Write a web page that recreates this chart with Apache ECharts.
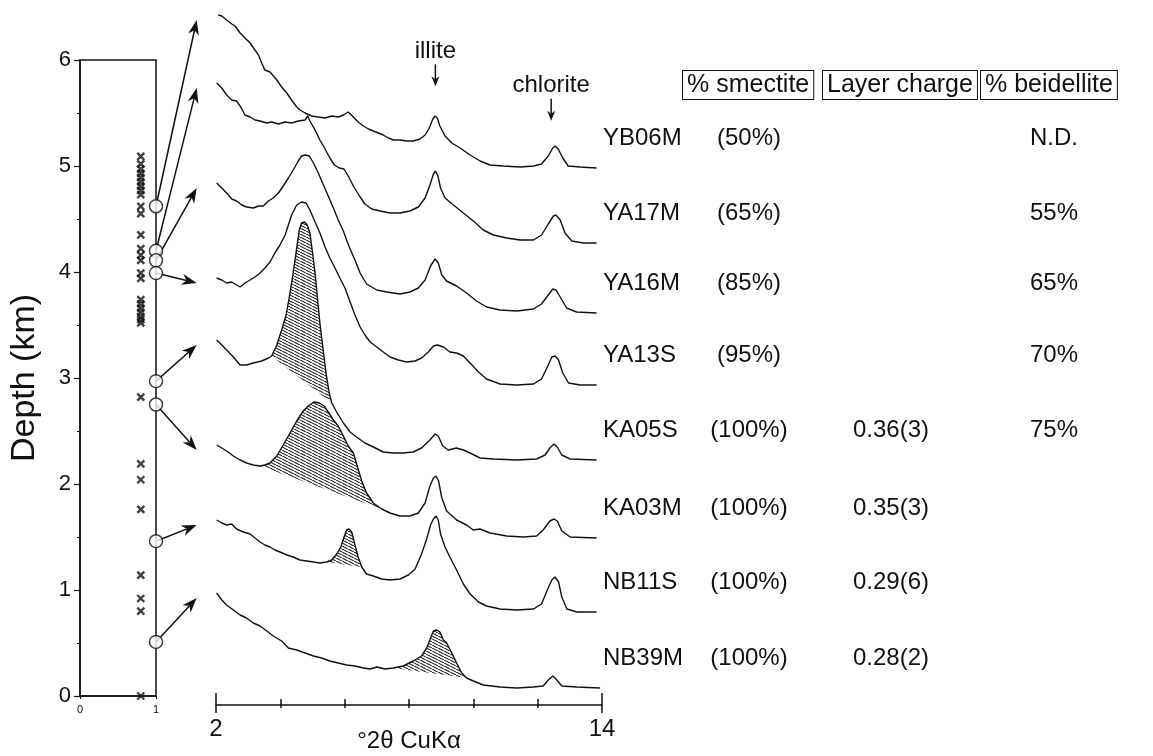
<!DOCTYPE html>
<html>
<head>
<meta charset="utf-8">
<title>Smectite XRD profiles with depth</title>
<script src="https://cdn.jsdelivr.net/npm/echarts@6.0.0/dist/echarts.min.js"></script>
<style>
  html, body { margin: 0; padding: 0; background: #fff; }
  #chart { width: 1153px; height: 756px; }
</style>
</head>
<body>
<div id="chart"></div>
<script>
// ---- Samples, listed from the deepest to the shallowest ----
const samples = ['YB06M', 'YA17M', 'YA16M', 'YA13S', 'KA05S', 'KA03M', 'NB11S', 'NB39M'];
const sampleDepthKm = [4.62, 4.20, 4.11, 3.99, 2.97, 2.75, 1.46, 0.51];
const smectitePct = [50, 65, 85, 95, 100, 100, 100, 100];
const layerCharge = ['', '', '', '', '0.36(3)', '0.35(3)', '0.29(6)', '0.28(2)'];
const beidellite = ['N.D.', '55%', '65%', '70%', '75%', '', '', ''];

// Other samples in the borehole (depth, km)
const otherDepthKm = [5.09, 5.02, 4.97, 4.93, 4.89, 4.85, 4.81, 4.77, 4.73, 4.62, 4.55, 4.35,
  4.22, 4.16, 4.11, 3.99, 3.94, 3.74, 3.70, 3.66, 3.62, 3.58, 3.55, 3.52,
  2.82, 2.19, 2.04, 1.76, 1.14, 0.92, 0.80, 0.0];

// Depth axis ticks
const depthTicks = [0, 1, 2, 3, 4, 5, 6];

// ---- XRD patterns: [°2θ, intensity above the pattern's own baseline] ----
const trYB06M = [[2.07,153],[2.18,152],[2.33,148],[2.49,144],[2.59,142],[2.75,135],[2.90,130],[3.06,125],[3.21,118],[3.32,113],[3.42,105],[3.52,98],[3.68,96],[3.89,88],[4.04,81],[4.20,75],[4.35,68],[4.51,61],[4.61,58],[4.77,55],[4.97,52],[5.18,51],[5.39,50],[5.60,52],[5.80,51],[5.96,53],[6.11,56],[6.27,51],[6.42,46],[6.58,42],[6.74,39],[6.89,37],[7.05,35],[7.20,33],[7.36,30],[7.51,28],[7.72,28],[7.93,27],[8.13,27],[8.34,29],[8.50,33],[8.63,40],[8.74,49],[8.81,52],[8.88,50],[8.96,42],[9.12,32],[9.33,25],[9.59,20],[9.90,13],[10.21,7],[10.52,3],[10.93,2],[11.45,1],[11.87,2],[12.12,4],[12.33,12],[12.47,20],[12.54,22],[12.64,19],[12.78,10],[12.95,2],[13.32,1],[13.83,0]];
const trYA17M = [[2.02,160],[2.18,155],[2.33,148],[2.49,143],[2.64,142],[2.77,136],[2.90,128],[3.06,126],[3.21,123],[3.37,122],[3.58,120],[3.73,121],[3.94,119],[4.15,121],[4.35,120],[4.56,122],[4.77,123],[4.85,127],[4.92,122],[5.08,113],[5.23,103],[5.39,94],[5.54,85],[5.68,78],[5.83,75],[5.98,74],[6.11,67],[6.27,57],[6.46,47],[6.63,39],[6.84,34],[7.10,32],[7.41,30],[7.72,30],[8.03,32],[8.29,36],[8.50,45],[8.65,58],[8.76,69],[8.82,72],[8.90,67],[8.98,55],[9.12,45],[9.38,38],[9.69,30],[10.0,22],[10.31,13],[10.62,8],[11.04,5],[11.45,3],[11.87,3],[12.12,8],[12.33,19],[12.49,27],[12.57,28],[12.70,23],[12.85,10],[13.06,2],[13.42,0],[13.83,0]];
const trYA16M = [[2.02,130],[2.18,125],[2.33,120],[2.49,114],[2.64,112],[2.80,108],[2.95,106],[3.16,105],[3.32,107],[3.47,107],[3.63,112],[3.78,115],[3.94,120],[4.09,127],[4.25,135],[4.40,143],[4.56,152],[4.66,157],[4.77,158],[4.90,157],[5.03,150],[5.18,140],[5.34,128],[5.49,117],[5.65,105],[5.80,93],[5.96,82],[6.06,73],[6.17,64],[6.32,53],[6.48,40],[6.68,29],[7.0,23],[7.31,21],[7.72,19],[8.03,21],[8.29,25],[8.50,33],[8.67,47],[8.81,54],[8.91,50],[9.02,38],[9.17,32],[9.48,27],[9.79,20],[10.10,12],[10.41,6],[10.83,3],[11.35,2],[11.87,4],[12.12,9],[12.33,18],[12.47,24],[12.57,23],[12.72,15],[12.90,5],[13.21,1],[13.83,0]];
const trYA13S = [[2.02,107],[2.18,105],[2.33,102],[2.49,103],[2.64,100],[2.75,98],[2.90,102],[3.06,105],[3.21,108],[3.37,112],[3.52,117],[3.68,123],[3.83,132],[3.99,140],[4.15,150],[4.25,160],[4.35,170],[4.51,180],[4.66,183],[4.80,182],[4.92,175],[5.08,163],[5.23,152],[5.39,138],[5.54,127],[5.70,117],[5.85,107],[6.01,97],[6.17,83],[6.32,70],[6.48,58],[6.63,50],[6.79,43],[7.0,38],[7.20,33],[7.41,28],[7.67,25],[7.93,23],[8.19,24],[8.39,27],[8.60,33],[8.76,39],[8.88,40],[9.07,38],[9.27,33],[9.48,32],[9.69,29],[9.90,22],[10.16,13],[10.41,6],[10.83,1],[11.35,0],[11.87,1],[12.12,6],[12.30,18],[12.44,28],[12.54,29],[12.65,25],[12.78,12],[12.96,2],[13.32,0],[13.83,0]];
const trKA05S = [[2.02,120],[2.18,115],[2.33,110],[2.54,103],[2.75,95],[2.95,95],[3.16,97],[3.42,99],[3.63,102],[3.73,104],[3.89,115],[4.04,130],[4.18,145],[4.28,163],[4.38,183],[4.47,203],[4.53,217],[4.59,230],[4.66,237],[4.75,238],[4.84,235],[4.92,227],[4.99,210],[5.08,187],[5.15,163],[5.23,137],[5.32,113],[5.42,87],[5.52,67],[5.60,57],[5.75,48],[5.96,37],[6.17,28],[6.37,23],[6.63,17],[6.89,13],[7.20,8],[7.51,7],[7.82,7],[8.13,8],[8.39,12],[8.65,20],[8.81,26],[8.91,24],[9.05,14],[9.22,10],[9.48,12],[9.69,10],[9.90,7],[10.21,2],[10.62,1],[11.35,0],[11.97,1],[12.23,5],[12.38,12],[12.51,16],[12.61,13],[12.75,5],[13.01,1],[13.83,0]];
const trKA03M = [[2.02,93],[2.18,90],[2.33,87],[2.54,82],[2.75,78],[2.95,75],[3.16,73],[3.37,72],[3.52,73],[3.68,75],[3.89,82],[4.09,93],[4.30,105],[4.51,117],[4.71,127],[4.87,132],[5.05,136],[5.21,135],[5.36,132],[5.49,126],[5.65,118],[5.80,112],[5.96,102],[6.11,92],[6.27,85],[6.39,72],[6.53,57],[6.68,45],[6.89,35],[7.15,29],[7.41,25],[7.72,22],[8.03,22],[8.29,25],[8.50,35],[8.65,52],[8.76,60],[8.84,62],[8.92,57],[9.02,40],[9.17,27],[9.48,18],[9.79,13],[10.0,8],[10.21,9],[10.52,5],[11.04,2],[11.55,1],[11.97,2],[12.17,8],[12.38,17],[12.51,19],[12.61,17],[12.75,7],[13.01,1],[13.83,0]];
const trNB11S = [[2.02,92],[2.18,89],[2.33,87],[2.49,88],[2.64,83],[2.85,80],[3.06,78],[3.21,74],[3.37,70],[3.52,67],[3.68,65],[3.83,62],[3.99,60],[4.20,57],[4.40,55],[4.61,52],[4.82,51],[5.03,50],[5.23,49],[5.44,50],[5.60,52],[5.75,58],[5.88,65],[5.98,75],[6.06,82],[6.13,83],[6.22,80],[6.32,67],[6.42,55],[6.53,45],[6.68,38],[6.89,36],[7.15,33],[7.41,32],[7.72,33],[7.98,37],[8.19,43],[8.39,58],[8.55,73],[8.67,87],[8.76,93],[8.84,96],[8.91,92],[8.98,78],[9.12,65],[9.27,55],[9.48,42],[9.69,28],[9.90,18],[10.16,10],[10.41,6],[10.83,3],[11.35,2],[11.87,3],[12.12,8],[12.30,22],[12.44,32],[12.54,35],[12.65,30],[12.75,15],[12.91,3],[13.22,0],[13.83,0]];
const trNB39M = [[2.02,95],[2.18,88],[2.33,83],[2.54,78],[2.75,73],[2.95,70],[3.16,65],[3.37,62],[3.58,57],[3.78,52],[4.04,47],[4.25,40],[4.51,38],[4.77,35],[5.03,32],[5.28,30],[5.54,27],[5.80,25],[6.06,23],[6.32,22],[6.58,20],[6.79,19],[7.0,21],[7.25,19],[7.51,20],[7.82,22],[8.13,27],[8.39,32],[8.55,40],[8.67,50],[8.76,57],[8.86,58],[8.96,56],[9.07,48],[9.17,45],[9.33,35],[9.48,25],[9.64,15],[9.79,10],[10.0,7],[10.31,3],[10.83,1],[11.35,0],[11.87,1],[12.17,2],[12.33,8],[12.47,12],[12.57,9],[12.75,2],[13.22,1],[13.94,0]];
const traces = [trYB06M, trYA17M, trYA16M, trYA13S, trKA05S, trKA03M, trNB11S, trNB39M];

// Vertical stacking offset of each pattern (same units as intensity)
const traceOffset = [537, 462, 392, 320, 245, 167, 93, 17];

// Hatched smectite (001) reflections: sample and °2θ range
const shadedSample = ['KA05S', 'KA03M', 'NB11S', 'NB39M'];
const shadedFrom = [3.73, 3.37, 5.44, 7.51];
const shadedTo = [5.60, 7.15, 6.53, 9.79];

// Reference reflections marked above the top pattern
const peakNames = ['illite', 'chlorite'];
const peakTheta = [8.82, 12.42];

// 2θ axis ticks
const thetaEnds = [2, 14];
const thetaInner = [4, 6, 8, 10, 12];

// Column headings of the sample table
const headerTitles = ['% smectite', 'Layer charge', '% beidellite'];

const FONT = '"Liberation Sans", Arial, Helvetica, sans-serif';
const INK = '#111';

function hatchCanvas() {
  const c = document.createElement('canvas');
  c.width = 6; c.height = 3;
  const g = c.getContext('2d');
  g.fillStyle = '#ffffff';
  g.fillRect(0, 0, 6, 3);
  g.strokeStyle = '#1a1a1a';
  g.lineWidth = 1.1;
  g.beginPath();
  g.moveTo(0, 0); g.lineTo(6, 3);
  g.moveTo(-6, 0); g.lineTo(0, 3);
  g.moveTo(6, 0); g.lineTo(12, 3);
  g.stroke();
  return c;
}
const hatchFill = { image: hatchCanvas(), repeat: 'repeat' };

function valueAt(tr, t) {
  for (let i = 1; i < tr.length; i++) {
    if (tr[i][0] >= t) {
      const a = tr[i - 1], b = tr[i];
      return a[1] + (b[1] - a[1]) * (t - a[0]) / (b[0] - a[0]);
    }
  }
  return tr[tr.length - 1][1];
}

const chart = echarts.init(document.getElementById('chart'));

const thetaAxisBase = {
  gridIndex: 1, type: 'value', min: 2, max: 14, position: 'bottom',
  axisLine: { show: false }, axisLabel: { show: false }, splitLine: { show: false }
};

const option = {
  animation: false,
  backgroundColor: '#ffffff',
  textStyle: { fontFamily: FONT, color: INK },
  grid: [
    { left: 80, top: 60, width: 76, height: 636, show: true, borderColor: INK, borderWidth: 1.5,
      backgroundColor: 'transparent', containLabel: false, outerBoundsMode: 'none' },
    { left: 216, top: 0, width: 386, height: 705, containLabel: false, outerBoundsMode: 'none' }
  ],
  xAxis: [
    { gridIndex: 0, type: 'value', min: 0, max: 1, interval: 1, position: 'bottom',
      axisLine: { show: true, lineStyle: { color: INK, width: 1.5 } },
      axisTick: { show: true, length: 3, lineStyle: { color: INK } },
      axisLabel: { fontSize: 11, color: INK, margin: 8, fontFamily: FONT },
      splitLine: { show: false } },
    { gridIndex: 1, type: 'value', min: 2, max: 14, interval: 12, position: 'bottom',
      axisLine: { show: true, lineStyle: { color: INK, width: 1.5 } },
      axisTick: { show: true, length: 8, customValues: thetaEnds, lineStyle: { color: INK, width: 1.5 } },
      axisLabel: { fontSize: 24, color: INK, margin: 12, customValues: thetaEnds, fontFamily: FONT },
      splitLine: { show: false },
      name: '°2θ CuKα', nameLocation: 'middle', nameGap: 24, nameMoveOverlap: false,
      nameTextStyle: { fontSize: 24, color: INK, fontFamily: FONT } },
    Object.assign({}, thetaAxisBase, { interval: 12,
      axisTick: { show: true, inside: true, length: 12, customValues: thetaEnds, lineStyle: { color: INK, width: 1.5 } } }),
    Object.assign({}, thetaAxisBase, { interval: 2,
      axisTick: { show: true, inside: false, length: 3, customValues: thetaInner, lineStyle: { color: INK, width: 1.5 } } }),
    Object.assign({}, thetaAxisBase, { interval: 2,
      axisTick: { show: true, inside: true, length: 6, customValues: thetaInner, lineStyle: { color: INK, width: 1.5 } } })
  ],
  yAxis: [
    { gridIndex: 0, type: 'value', min: 0, max: 6, interval: 1,
      axisLine: { show: true, lineStyle: { color: INK, width: 1.5 } },
      axisTick: { show: true, length: 6, customValues: depthTicks, lineStyle: { color: INK, width: 1.2 } },
      minorTick: { show: true, splitNumber: 2, length: 3, lineStyle: { color: INK } },
      axisLabel: { fontSize: 22, color: INK, margin: 9, fontFamily: FONT },
      splitLine: { show: false }, minorSplitLine: { show: false },
      name: 'Depth (km)', nameLocation: 'middle', nameGap: 38, nameRotate: 90, nameMoveOverlap: false,
      nameTextStyle: { fontSize: 34, color: INK, fontFamily: FONT } },
    { gridIndex: 1, type: 'value', min: 0, max: 705, show: false }
  ],
  series: [
    { type: 'scatter', xAxisIndex: 0, yAxisIndex: 0, silent: true, z: 3,
      data: otherDepthKm.map(d => [0.8, d]),
      symbol: 'path://M0,0L10,10M10,0L0,10', symbolSize: 7,
      itemStyle: { color: 'none', borderColor: INK, borderWidth: 2.4 } },
    { type: 'scatter', xAxisIndex: 0, yAxisIndex: 0, silent: true, z: 6, clip: false,
      data: sampleDepthKm.map(d => [1, d]),
      symbol: 'circle', symbolSize: 13,
      itemStyle: { color: '#ffffff', borderColor: INK, borderWidth: 1.5 } },
    { type: 'custom', xAxisIndex: 1, yAxisIndex: 1, silent: true, z: 3,
      data: shadedSample.map((s, k) => [shadedFrom[k], traceOffset[samples.indexOf(s)]]),
      renderItem: function (params, api) {
        const k = params.dataIndex;
        const s = samples.indexOf(shadedSample[k]);
        const pts = traces[s]
          .filter(p => p[0] >= shadedFrom[k] - 1e-6 && p[0] <= shadedTo[k] + 1e-6)
          .map(p => api.coord([p[0], traceOffset[s] + p[1]]));
        return { type: 'polygon', shape: { points: pts }, style: { fill: hatchFill, stroke: null } };
      } }
  ].concat(traces.map((tr, i) => ({
    type: 'line', name: samples[i], xAxisIndex: 1, yAxisIndex: 1, silent: true, z: 4,
    data: tr.map(p => [p[0], traceOffset[i] + p[1]]),
    symbol: 'none', lineStyle: { color: INK, width: 1.4 }
  })))
};

chart.setOption(option);

// ---- Annotations placed through the two coordinate systems ----
const px = (grid, x, y) => chart.convertToPixel({ gridIndex: grid }, [x, y]);
const gfx = [];

function arrow(x1, y1, x2, y2, len, half, width) {
  const dx = x2 - x1, dy = y2 - y1;
  const L = Math.hypot(dx, dy) || 1;
  const ux = dx / L, uy = dy / L, nx = -uy, ny = ux;
  const bx = x2 - ux * len, by = y2 - uy * len;
  const mx = x2 - ux * len * 0.7, my = y2 - uy * len * 0.7;
  gfx.push({ type: 'line', silent: true, z: 1,
    shape: { x1: x1, y1: y1, x2: mx, y2: my },
    style: { stroke: INK, lineWidth: width } });
  gfx.push({ type: 'polygon', silent: true, z: 1,
    shape: { points: [[x2, y2], [bx + nx * half, by + ny * half], [mx, my], [bx - nx * half, by - ny * half]] },
    style: { fill: INK } });
}

function text(str, x, y, size, align, boxed) {
  const style = { text: str, x: 0, y: 0, fontSize: size, fontFamily: FONT, fill: INK,
    align: align, verticalAlign: 'middle' };
  if (boxed) {
    style.borderColor = INK; style.borderWidth = 1; style.padding = [2, 4, 1, 4];
    style.backgroundColor = '#ffffff';
  }
  gfx.push({ type: 'text', x: x, y: y, silent: true, z: 2, style: style });
}

// Arrows from each sample depth to the start of its pattern
samples.forEach((name, i) => {
  const s = px(0, 1, sampleDepthKm[i]);
  const e = px(1, 1.4, traceOffset[i] + traces[i][0][1] - 5);
  arrow(s[0], s[1], e[0], e[1], 15, 5.5, 1.5);
});

// illite / chlorite markers above the top pattern
peakNames.forEach((name, k) => {
  const p = px(1, peakTheta[k], traceOffset[0] + valueAt(traces[0], peakTheta[k]));
  const tip = p[1] - 30, tail = tip - 22;
  arrow(p[0], tail, p[0], tip, 10, 4, 1.5);
  text(name, p[0], tail - 13, 24, 'center', false);
});

// Table headings
const headerLeft = [683, 823, 981];
headerTitles.forEach((h, k) => text(h, headerLeft[k], 85, 25, 'left', true));

// Table rows next to each pattern
samples.forEach((name, i) => {
  const y = px(1, 13.8, traceOffset[i] + 30)[1];
  text(name, 603, y, 24, 'left', false);
  text('(' + smectitePct[i] + '%)', 749, y, 24, 'center', false);
  if (layerCharge[i]) text(layerCharge[i], 891, y, 24, 'center', false);
  if (beidellite[i]) text(beidellite[i], 1054, y, 24, 'center', false);
});

chart.setOption({ graphic: { elements: gfx } });
</script>
</body>
</html>
